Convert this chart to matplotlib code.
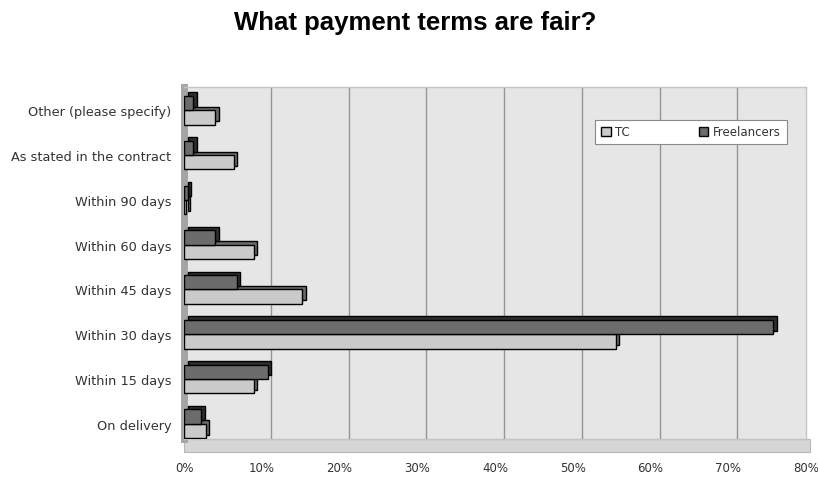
import matplotlib
matplotlib.use('Agg')
import matplotlib.pyplot as plt
import matplotlib.transforms as mtrans
from matplotlib.patches import Patch, Rectangle
import numpy as np

# data (percent)
categories = ['On delivery', 'Within 15 days', 'Within 30 days', 'Within 45 days',
              'Within 60 days', 'Within 90 days', 'As stated in the contract',
              'Other (please specify)']
tc = [2.8, 9.0, 55.5, 15.2, 9.0, 0.3, 6.4, 4.0]
freelancers = [2.2, 10.8, 75.8, 6.8, 4.0, 0.5, 1.2, 1.2]
xticks = [0, 10, 20, 30, 40, 50, 60, 70, 80]

plt.rcParams['font.family'] = ['DejaVu Sans']

fig = plt.figure(figsize=(8.18, 4.81), dpi=100)
W, H = 818, 481
# front plane of the 3d box, in pixels
x0, x1, ytop, ybot = 184, 806, 88, 440
ax = fig.add_axes([x0 / W, 1 - ybot / H, (x1 - x0) / W, (ybot - ytop) / H])
ax.set_facecolor('#e6e6e6')

y = np.arange(len(categories))
h = 0.32
depth = mtrans.ScaledTranslation(0.035, 0.035, fig.dpi_scale_trans)
back = mtrans.ScaledTranslation(0.09, 0, fig.dpi_scale_trans)

# gridlines on the back wall
for t in xticks[1:]:
    ax.plot([t, t], [0, 1], color='#959595', lw=1.0, zorder=1,
            transform=ax.get_xaxis_transform() + back)

# TC bars (front series), then freelancers above
ax.barh(y - h / 2, tc, height=h, color='#6a6a6a', edgecolor='black', lw=1,
        transform=ax.transData + depth, zorder=2)
ax.barh(y - h / 2, tc, height=h, color='#cacaca', edgecolor='black', lw=1, zorder=3)
ax.barh(y + h / 2, freelancers, height=h, color='#2e2e2e', edgecolor='black', lw=1,
        transform=ax.transData + depth, zorder=4)
ax.barh(y + h / 2, freelancers, height=h, color='#6c6c6c', edgecolor='black', lw=1, zorder=5)

ax.set_xlim(0, 80)
ax.set_ylim(-0.34, 7.52)
ax.set_xticks(xticks)
ax.set_xticklabels([f'{t}%' for t in xticks], fontsize=8.5, color='#333333')
ax.set_yticks(y)
ax.set_yticklabels(categories, fontsize=9.25, color='#333333')
ax.tick_params(axis='x', length=0, pad=16)
ax.tick_params(axis='y', length=0, pad=9)

for s in ['top', 'right', 'bottom']:
    ax.spines[s].set_color('#c4c4c4')
    ax.spines[s].set_linewidth(1)
ax.spines['left'].set_color('#a4a4a4')
ax.spines['left'].set_linewidth(5)

# floor band under the front plane
floor = mtrans.Bbox.from_extents(x0 / W, 1 - (ybot + 13) / H, (x1 + 4) / W, 1 - ybot / H)
ax.add_patch(Rectangle((floor.x0, floor.y0), floor.width, floor.height, transform=fig.transFigure,
                       facecolor='#d6d6d6', edgecolor='#b8b8b8', lw=0.8, clip_on=False, zorder=0))

handles = [Patch(facecolor='#cacaca', edgecolor='black', label='TC'),
           Patch(facecolor='#6c6c6c', edgecolor='black', label='Freelancers')]
leg = fig.legend(handles=handles, loc='center', bbox_to_anchor=(691 / W, 1 - 133 / H), ncol=2,
                 fontsize=8.5, frameon=True, fancybox=False, edgecolor='#8a8a8a',
                 handlelength=0.8, handleheight=0.8, columnspacing=5.8, borderpad=0.5,
                 handletextpad=0.4, framealpha=1)
leg.get_frame().set_linewidth(0.8)
for t in leg.get_texts():
    t.set_color('#333333')

fig.suptitle('What payment terms are fair?', fontsize=18.5, fontweight='bold', x=0.507,
             y=1 - 23 / H, va='center', family=['Liberation Sans', 'DejaVu Sans'])

fig.savefig('out.png', dpi=100)
